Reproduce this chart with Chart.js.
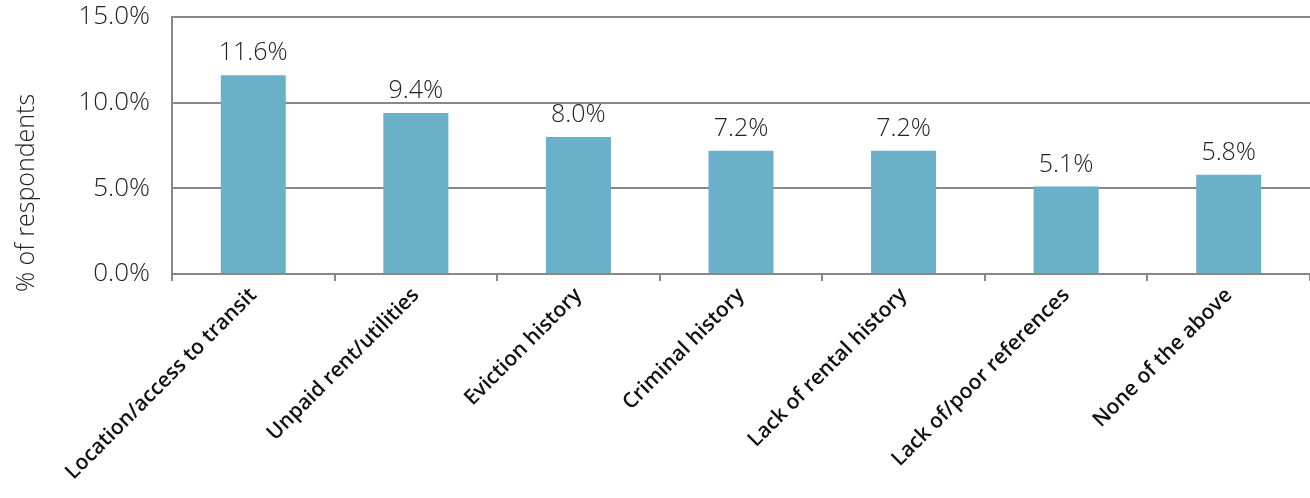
<!DOCTYPE html>
<html><head><meta charset="utf-8">
<script src="https://cdn.jsdelivr.net/npm/chart.js@4"></script>
<style>html,body{margin:0;padding:0;background:#fff}#wrap{width:1310px;height:498px}</style>
</head><body><div id="wrap"><canvas id="c"></canvas></div>
<script>
const categories = ["Location/access to transit","Unpaid rent/utilities","Eviction history","Criminal history","Lack of rental history","Lack of/poor references","None of the above"];
const values = [11.6, 9.4, 8.0, 7.2, 7.2, 5.1, 5.8];
const yTicks = [0, 5, 10, 15];
const yTitle = "% of respondents";

const FONT = '"Open Sans", "Noto Sans", sans-serif';

const labelPlugin = {
  id: 'barLabels',
  afterDatasetsDraw(chart) {
    const ctx = chart.ctx;
    const meta = chart.getDatasetMeta(0);
    ctx.save();
    ctx.font = '300 25px ' + FONT;
    ctx.fillStyle = '#222';
    ctx.textAlign = 'center';
    ctx.textBaseline = 'alphabetic';
    meta.data.forEach((bar, i) => {
      ctx.fillText(values[i].toFixed(1) + '%', bar.x, bar.y - 15);
    });
    // y axis title
    ctx.translate(27, 193);
    ctx.rotate(-Math.PI / 2);
    ctx.textAlign = 'center';
    ctx.textBaseline = 'middle';
    ctx.font = '300 25px ' + FONT;
    ctx.fillText(yTitle, 0, 0);
    ctx.restore();
  }
};

new Chart(document.getElementById('c'), {
  type: 'bar',
  data: { labels: categories, datasets: [{ data: values, backgroundColor: '#6BB0C9', categoryPercentage: 0.8, barPercentage: 0.5 }] },
  options: {
    responsive: true, maintainAspectRatio: false, animation: false,
    layout: { padding: { top: 0, right: 0, left: 0, bottom: 0 } },
    plugins: { legend: { display: false }, tooltip: { enabled: false } },
    scales: {
      x: {
        afterFit(axis) { axis.height = 224; axis.paddingLeft = 0; axis.paddingRight = 0; axis.paddingTop = 0; axis.paddingBottom = 0; },
        grid: { display: true, offset: true, drawOnChartArea: false, drawTicks: true, tickLength: 7, color: '#888', lineWidth: 2 },
        border: { display: true, color: '#888', width: 2 },
        ticks: { maxRotation: 45, minRotation: 45, autoSkip: false, color: '#111', padding: 2,
          font: { family: FONT, size: 21, weight: '600' } }
      },
      y: {
        min: 0, max: 15,
        afterFit(axis) { axis.width = 172; axis.paddingTop = 17; axis.paddingBottom = 0; },
        afterBuildTicks(axis) { axis.ticks = yTicks.map(v => ({ value: v })); },
        grid: { color: '#888', lineWidth: 2, drawTicks: false },
        border: { display: true, color: '#888', width: 2 },
        ticks: { color: '#222', padding: 22, callback: v => v.toFixed(1) + '%',
          font: { family: FONT, size: 26, weight: '300' } }
      }
    }
  },
  plugins: [labelPlugin]
});
</script></body></html>
